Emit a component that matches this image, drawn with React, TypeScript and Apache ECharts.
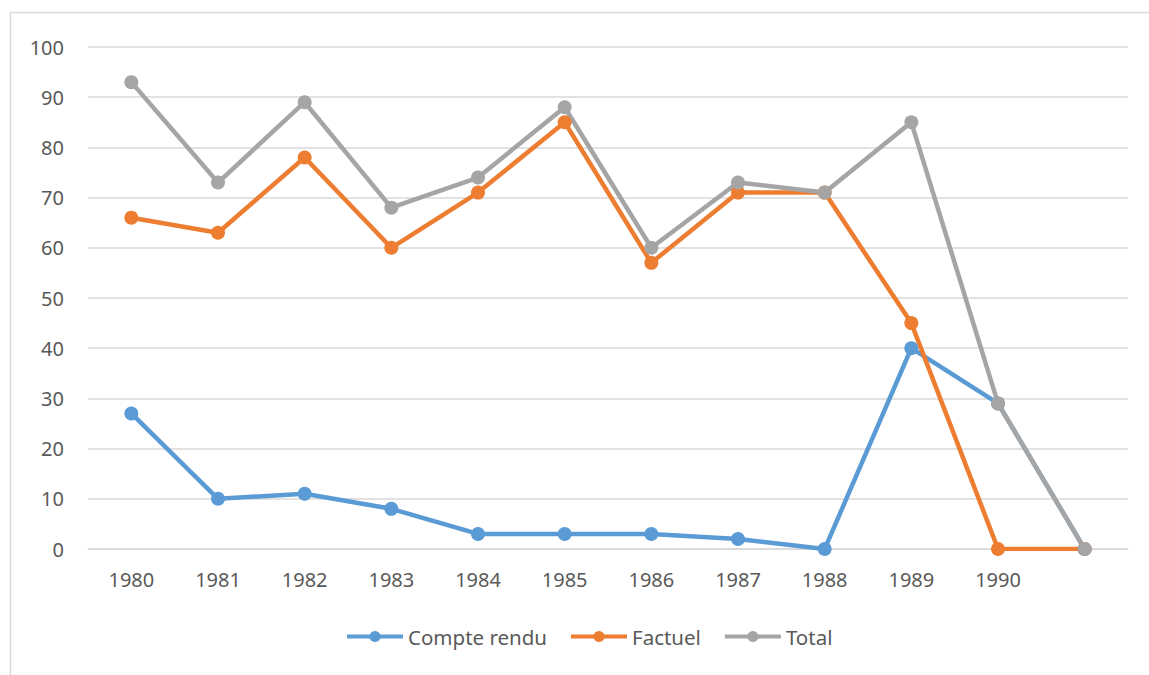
import React, { useEffect, useRef } from "react";
import * as echarts from "echarts";

const categories = ["1980", "1981", "1982", "1983", "1984", "1985", "1986", "1987", "1988", "1989", "1990", ""];
const compteRendu = [27, 10, 11, 8, 3, 3, 3, 2, 0, 40, 29, 0];
const factuel = [66, 63, 78, 60, 71, 85, 57, 71, 71, 45, 0, 0];
const total = [93, 73, 89, 68, 74, 88, 60, 73, 71, 85, 29, 0];
const seriesNames = ["Compte rendu", "Factuel", "Total"];
const colors = ["#5B9BD5", "#ED7D31", "#A5A5A5"];

export default function App() {
  const ref = useRef<HTMLDivElement>(null);
  useEffect(() => {
    if (!ref.current) return;
    const chart = echarts.init(ref.current, null, { renderer: "svg" });
    const font = "'Noto Sans', 'Open Sans', sans-serif";
    const datasets = [compteRendu, factuel, total];
    chart.setOption({
      animation: false,
      backgroundColor: "#ffffff",
      textStyle: { fontFamily: font },
      graphic: [
        {
          type: "rect",
          shape: { x: 10.5, y: 12.5, width: 1150, height: 700 },
          style: { fill: "none", stroke: "#D9D9D9", lineWidth: 1.5 },
          silent: true,
          z: -1,
        },
      ],
      grid: { left: 88, right: 21, top: 47, bottom: 126 },
      legend: {
        bottom: 23,
        left: 340,
        itemWidth: 56,
        itemHeight: 14,
        itemGap: 22,
        lineStyle: { width: 4 },
        textStyle: { color: "#595959", fontSize: 20.5, fontFamily: font },
        data: seriesNames,
      },
      xAxis: {
        type: "category",
        data: categories,
        boundaryGap: true,
        axisLine: { show: true, lineStyle: { color: "#D9D9D9", width: 1.5 } },
        axisTick: { show: false },
        axisLabel: { color: "#595959", fontSize: 20, margin: 20, fontFamily: font, interval: 0 },
      },
      yAxis: {
        type: "value",
        min: 0,
        max: 100,
        interval: 10,
        axisLine: { show: false },
        axisTick: { show: false },
        splitLine: { lineStyle: { color: "#D9D9D9", width: 1.5 } },
        axisLabel: { color: "#595959", fontSize: 20, margin: 24, fontFamily: font },
      },
      series: seriesNames.map((name, i) => ({
        name,
        type: "line",
        data: datasets[i],
        color: colors[i],
        symbol: "circle",
        symbolSize: 14,
        lineStyle: { width: 4.5, color: colors[i] },
        itemStyle: { color: colors[i] },
      })),
    });
    return () => chart.dispose();
  }, []);
  return (
    <div
      ref={ref}
      style={{ position: "absolute", left: 0, top: 0, width: 1149, height: 675 }}
    />
  );
}
